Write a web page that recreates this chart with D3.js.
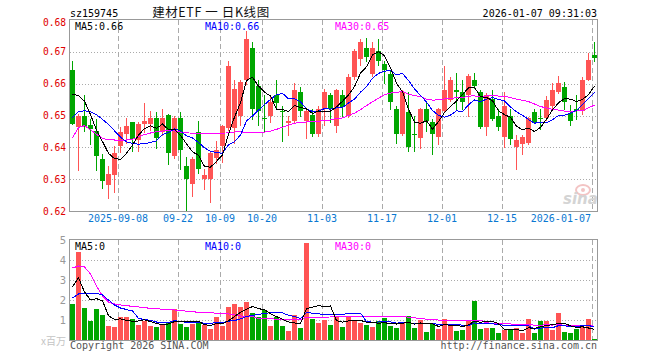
<!DOCTYPE html>
<html><head><meta charset="utf-8">
<script src="https://cdn.jsdelivr.net/npm/d3@7"></script>
<style>
html,body{margin:0;padding:0;background:#fff;}
svg{display:block;}
</style></head><body>
<svg id="chart" width="660" height="360"></svg>
<script>
// ---------------- data ----------------
const dates = ["2025-08-27","2025-08-28","2025-08-29","2025-09-01","2025-09-02","2025-09-03","2025-09-04","2025-09-05",
"2025-09-08","2025-09-09","2025-09-10","2025-09-11","2025-09-12","2025-09-15","2025-09-16","2025-09-17","2025-09-18","2025-09-19",
"2025-09-22","2025-09-23","2025-09-24","2025-09-25","2025-09-26","2025-09-29","2025-09-30","2025-10-09","2025-10-10",
"2025-10-13","2025-10-14","2025-10-15","2025-10-16","2025-10-17","2025-10-20","2025-10-21","2025-10-22","2025-10-23","2025-10-24",
"2025-10-27","2025-10-28","2025-10-29","2025-10-30","2025-10-31","2025-11-03","2025-11-04","2025-11-05","2025-11-06","2025-11-07",
"2025-11-10","2025-11-11","2025-11-12","2025-11-13","2025-11-14","2025-11-17","2025-11-18","2025-11-19","2025-11-20","2025-11-21",
"2025-11-24","2025-11-25","2025-11-26","2025-11-27","2025-11-28","2025-12-01","2025-12-02","2025-12-03","2025-12-04","2025-12-05",
"2025-12-08","2025-12-09","2025-12-10","2025-12-11","2025-12-12","2025-12-15","2025-12-16","2025-12-17","2025-12-18","2025-12-19",
"2025-12-22","2025-12-23","2025-12-24","2025-12-25","2025-12-26","2025-12-29","2025-12-30","2025-12-31","2026-01-05","2026-01-06","2026-01-07"];

const open = [0.6642,0.6465,0.6500,0.6470,0.6451,0.6363,0.6282,0.6313,0.6404,0.6441,0.6479,0.6423,0.6472,0.6472,0.6491,0.6448,0.6501,0.6373,
0.6491,0.6342,0.6284,0.6449,0.6300,0.6300,0.6368,0.6404,0.6461,0.6461,0.6498,0.6613,0.6713,0.6592,0.6492,0.6498,0.6563,0.6515,0.6475,
0.6482,0.6573,0.6482,0.6503,0.6441,0.6519,0.6563,0.6467,0.6563,0.6498,0.6621,0.6677,0.6711,0.6630,0.6703,0.6663,0.6630,0.6521,0.6441,
0.6511,0.6443,0.6430,0.6521,0.6479,0.6433,0.6514,0.6550,0.6581,0.6573,0.6563,0.6613,0.6573,0.6464,0.6552,0.6500,0.6433,0.6500,0.6401,
0.6409,0.6413,0.6511,0.6492,0.6491,0.6531,0.6573,0.6589,0.6508,0.6520,0.6514,0.6613,0.6691];
const high = [0.6672,0.6505,0.6563,0.6490,0.6488,0.6380,0.6340,0.6405,0.6463,0.6491,0.6479,0.6480,0.6540,0.6513,0.6511,0.6519,0.6505,0.6500,
0.6510,0.6370,0.6370,0.6482,0.6331,0.6390,0.6420,0.6470,0.6672,0.6611,0.6610,0.6764,0.6732,0.6613,0.6563,0.6560,0.6613,0.6529,0.6500,
0.6602,0.6590,0.6520,0.6520,0.6530,0.6582,0.6570,0.6583,0.6581,0.6630,0.6710,0.6741,0.6743,0.6732,0.6741,0.6670,0.6644,0.6530,0.6580,
0.6573,0.6498,0.6525,0.6542,0.6490,0.6525,0.6654,0.6620,0.6633,0.6610,0.6630,0.6633,0.6580,0.6570,0.6580,0.6520,0.6573,0.6520,0.6440,
0.6440,0.6495,0.6520,0.6520,0.6562,0.6602,0.6623,0.6604,0.6534,0.6563,0.6620,0.6696,0.6732];
const low = [0.6472,0.6330,0.6450,0.6410,0.6330,0.6272,0.6240,0.6260,0.6384,0.6415,0.6389,0.6390,0.6447,0.6455,0.6399,0.6440,0.6347,0.6365,
0.6331,0.6201,0.6248,0.6320,0.6269,0.6229,0.6350,0.6355,0.6455,0.6415,0.6470,0.6600,0.6488,0.6469,0.6451,0.6480,0.6519,0.6420,0.6440,
0.6480,0.6500,0.6430,0.6435,0.6435,0.6470,0.6480,0.6448,0.6498,0.6495,0.6615,0.6660,0.6672,0.6625,0.6659,0.6602,0.6520,0.6415,0.6440,
0.6389,0.6389,0.6399,0.6450,0.6378,0.6409,0.6510,0.6545,0.6519,0.6519,0.6498,0.6585,0.6460,0.6439,0.6485,0.6455,0.6400,0.6410,0.6331,
0.6380,0.6410,0.6475,0.6458,0.6485,0.6525,0.6570,0.6520,0.6469,0.6490,0.6505,0.6610,0.6670];
const close = [0.6472,0.6500,0.6465,0.6458,0.6373,0.6295,0.6315,0.6381,0.6449,0.6466,0.6425,0.6472,0.6482,0.6491,0.6430,0.6491,0.6383,0.6491,
0.6392,0.6300,0.6363,0.6331,0.6313,0.6381,0.6392,0.6466,0.6654,0.6583,0.6604,0.6741,0.6519,0.6514,0.6489,0.6542,0.6538,0.6513,0.6482,
0.6581,0.6514,0.6514,0.6441,0.6521,0.6573,0.6521,0.6581,0.6527,0.6621,0.6703,0.6732,0.6683,0.6711,0.6672,0.6642,0.6542,0.6441,0.6573,
0.6401,0.6441,0.6521,0.6482,0.6441,0.6521,0.6581,0.6613,0.6573,0.6542,0.6623,0.6592,0.6464,0.6563,0.6490,0.6464,0.6531,0.6425,0.6423,
0.6432,0.6491,0.6477,0.6490,0.6550,0.6581,0.6602,0.6542,0.6482,0.6514,0.6613,0.6673,0.6682];
// volume in millions (x百万)
const volume = [1.80,4.42,1.60,0.97,1.55,1.25,0.70,0.65,1.15,1.15,1.05,0.75,0.95,0.70,0.65,0.80,0.90,1.55,0.80,0.65,0.80,0.85,0.75,0.55,
1.15,0.70,1.65,1.80,1.65,1.90,1.35,1.15,1.50,0.70,1.15,0.70,0.45,1.25,0.60,4.85,1.05,0.85,1.00,0.75,1.20,0.65,1.20,1.00,0.85,0.75,
0.65,0.95,1.10,0.70,0.60,0.85,1.20,0.60,1.00,0.40,0.85,0.55,1.05,0.80,0.45,0.50,1.00,1.95,0.55,0.60,0.60,0.35,0.50,0.55,0.60,0.35,
1.05,0.35,0.95,0.95,0.50,1.35,0.40,0.35,0.55,0.65,1.05,0.05];

const priceMa5Lead = [0.6566,0.6563,0.6545,0.6503];
const priceMa10Lead = [0.6493,0.6512,0.6515,0.6512,0.6502,0.6488,0.6472,0.6452,0.6432];
const priceMa30Lead = [0.6430,0.6462,0.6468,0.6455,0.6441,0.6428,0.6424,0.6423,0.6423,0.6423,0.6425,0.6433,0.6440,0.6445,0.6449,
0.6451,0.6454,0.6452,0.6448,0.6446,0.6444,0.6443,0.6443,0.6443,0.6443,0.6444,0.6446,0.6448,0.6449];
const volMa5Lead = [2.65,3.12,2.40,2.00];
const volMa10Lead = [2.10,2.30,2.33,2.33,2.33,2.25,2.00,1.75,1.60];
const volMa30Lead = [3.60,3.70,3.65,3.30,2.70,2.20,1.90,1.80,1.75,1.72,1.68,1.65,1.62,1.58,1.56,1.54,1.53,1.50,1.47,1.44,1.42,1.38,
1.37,1.36,1.34,1.32,1.30,1.25,1.20];

const tickDates = ["2025-09-08","2025-09-22","2025-10-09","2025-10-20","2025-11-03","2025-11-17","2025-12-01","2025-12-15","2026-01-07"];
const tickLabels = ["2025-09-08","09-22","10-09","10-20","11-03","11-17","12-01","12-15","2026-01-07"];
const priceTicks = [0.62,0.63,0.64,0.65,0.66,0.67,0.68];
const volTicks = [1,2,3,4,5];

const symbol = "sz159745";
const title = "建材ETF 一 日K线图";
const stamp = "2026-01-07 09:31:03";

// ---------------- helpers ----------------
function movingAvg(vals, n, lead) {
  return vals.map((v, i) => {
    if (i < lead.length && i < n - 1) return lead[i];
    let s = 0; for (let k = i - n + 1; k <= i; k++) s += vals[k];
    return s / n;
  });
}
const ma5 = movingAvg(close, 5, priceMa5Lead);
const ma10 = movingAvg(close, 10, priceMa10Lead);
const ma30 = movingAvg(close, 30, priceMa30Lead);
const vma5 = movingAvg(volume, 5, volMa5Lead);
const vma10 = movingAvg(volume, 10, volMa10Lead);
const vma30 = movingAvg(volume, 30, volMa30Lead);

const RED = "#ff5454", GREEN = "#00a600", GRID = "#aaaaaa", BORDER = "#999999";
const MONO = "'DejaVu Sans Mono', monospace";

const svg = d3.select("#chart");
const L = 70, R = 597;
const pTop = 20, pBot = 211, vTop = 240, vBot = 340;

const x = d3.scaleBand().domain(dates).range([69.5, 597.5]).paddingInner(1/6).paddingOuter(1/12);
const y = d3.scaleLinear().domain([0.62, 0.68]).range([pBot, pTop]);
const yv = d3.scaleLinear().domain([0, 5]).range([vBot, vTop]);
const idx = d3.range(dates.length);
const cx = i => Math.round(x(dates[i])) + 2.5;

// ---------- header ----------
svg.append("text").attr("x", 70).attr("y", 17).attr("font-family", MONO).attr("font-size", 10).attr("fill", "#000").text(symbol);
svg.append("text").attr("x", 211).attr("y", 17).attr("text-anchor", "middle").attr("font-family", "'Noto Sans CJK SC', sans-serif")
  .attr("font-size", 12.5).attr("fill", "#111").attr("letter-spacing", 0.6).text(title);
svg.append("text").attr("x", 597).attr("y", 17).attr("text-anchor", "end").attr("font-family", MONO).attr("font-size", 10).attr("fill", "#000").text(stamp);

// ---------- grids ----------
function grid(g, top, bot, hvals, yscale) {
  g.selectAll("line.h").data(hvals).join("line").attr("class", "h")
    .attr("x1", L).attr("x2", R).attr("y1", d => Math.round(yscale(d)) + 0.5).attr("y2", d => Math.round(yscale(d)) + 0.5)
    .attr("stroke", GRID).attr("stroke-dasharray", "1,2");
  g.selectAll("line.v").data(tickDates).join("line").attr("class", "v")
    .attr("x1", d => Math.round(x(d)) + 0.5).attr("x2", d => Math.round(x(d)) + 0.5).attr("y1", top).attr("y2", bot)
    .attr("stroke", GRID).attr("stroke-dasharray", "5,3");
}
const gp = svg.append("g"); grid(gp, pTop, pBot, [0.63,0.64,0.65,0.66,0.67], y);
const gv = svg.append("g"); grid(gv, vTop, vBot, [1,2,3,4], yv);

// watermark
const wm = svg.append("g");
wm.append("ellipse").attr("cx", 583).attr("cy", 190).attr("rx", 7).attr("ry", 5).attr("fill", "none").attr("stroke", "#f3c4c4").attr("stroke-width", 2);
wm.append("circle").attr("cx", 583).attr("cy", 190).attr("r", 2).attr("fill", "#f3c4c4");
wm.append("text").attr("x", 563).attr("y", 204).attr("font-family", "'DejaVu Sans', sans-serif").attr("font-weight", "bold")
  .attr("font-style", "italic").attr("font-size", 15).attr("fill", "#d4d4d4").text("sina");

// ---------- candles ----------
const up = i => close[i] >= open[i];
const gc = svg.append("g").attr("shape-rendering", "crispEdges");
gc.selectAll("line.wick").data(idx).join("line").attr("class", "wick")
  .attr("x1", cx).attr("x2", cx)
  .attr("y1", i => Math.round(y(high[i]))).attr("y2", i => Math.round(y(low[i])) + 1)
  .attr("stroke", i => up(i) ? RED : GREEN);
gc.selectAll("rect.body").data(idx).join("rect").attr("class", "body")
  .attr("x", i => Math.round(x(dates[i]))).attr("width", 5)
  .attr("y", i => Math.round(y(Math.max(open[i], close[i]))))
  .attr("height", i => Math.max(1, Math.round(y(Math.min(open[i], close[i]))) - Math.round(y(Math.max(open[i], close[i])))))
  .attr("fill", i => up(i) ? RED : GREEN);

// volume bars
gc.selectAll("rect.vol").data(idx).join("rect").attr("class", "vol")
  .attr("x", i => Math.round(x(dates[i]))).attr("width", 5)
  .attr("y", i => Math.round(yv(volume[i]))).attr("height", i => vBot - Math.round(yv(volume[i])))
  .attr("fill", i => up(i) ? RED : GREEN);

// ---------- MA lines ----------
function maLine(arr, ys, color) {
  svg.append("path").datum(idx)
    .attr("d", d3.line().x(cx).y(i => ys(arr[i])))
    .attr("fill", "none").attr("stroke", color).attr("stroke-width", 1).attr("shape-rendering", "crispEdges");
}
maLine(ma30, y, "#ff00ff"); maLine(ma10, y, "#0000ff"); maLine(ma5, y, "#000000");
maLine(vma30, yv, "#ff00ff"); maLine(vma10, yv, "#0000ff"); maLine(vma5, yv, "#000000");

// ---------- borders ----------
svg.append("rect").attr("x", 69.5).attr("y", 19.5).attr("width", 528).attr("height", 192).attr("fill", "none").attr("stroke", BORDER);
svg.append("rect").attr("x", 69.5).attr("y", 239.5).attr("width", 528).attr("height", 101).attr("fill", "none").attr("stroke", BORDER);

// ---------- axes ----------
const ay = svg.append("g").attr("transform", "translate(66,0)")
  .call(d3.axisLeft(y).tickValues(priceTicks).tickFormat(d3.format(".2f")).tickSize(0).tickPadding(0));
ay.select(".domain").remove();
ay.selectAll("text").attr("font-family", MONO).attr("font-size", 9.6).attr("fill", "#e00000");
ay.selectAll(".tick").filter(d => d === 0.68).select("text").attr("dy", "0.55em");

const av = svg.append("g").attr("transform", "translate(66,0)")
  .call(d3.axisLeft(yv).tickValues(volTicks).tickFormat(d3.format("d")).tickSize(0).tickPadding(0));
av.select(".domain").remove();
av.selectAll("text").attr("font-family", "'DejaVu Sans', sans-serif").attr("font-size", 10).attr("fill", "#999");
svg.append("text").attr("x", 66).attr("y", 345).attr("text-anchor", "end").attr("font-family", "'Noto Sans CJK SC', sans-serif")
  .attr("font-size", 10).attr("fill", "#c4c4c4").text("x百万");

const tickMap = new Map(tickDates.map((d, k) => [d, tickLabels[k]]));
const ax = svg.append("g").attr("transform", `translate(-2.5,${pBot})`)
  .call(d3.axisBottom(x).tickValues(tickDates).tickFormat(d => tickMap.get(d)).tickSize(0).tickPadding(4));
ax.select(".domain").remove();
ax.selectAll("text").attr("font-family", MONO).attr("font-size", 10).attr("fill", "#0a78d2");
ax.selectAll(".tick").filter(d => d === "2026-01-07").select("text").attr("text-anchor", "end").attr("dx", "-0.1em");

// ---------- MA legends ----------
const fmt2 = d3.format(".2f");
const last = dates.length - 1;
const legend = (xx, yy, txt, col) => svg.append("text").attr("x", xx).attr("y", yy).attr("font-family", MONO)
  .attr("font-size", 10).attr("fill", col).text(txt);
legend(75, 29.5, "MA5:" + fmt2(ma5[last]), "#000");
legend(205, 29.5, "MA10:" + fmt2(ma10[last]), "#0000ff");
legend(335, 29.5, "MA30:" + fmt2(ma30[last]), "#ff00ff");
legend(75, 250, "MA5:" + Math.floor(vma5[last]), "#000");
legend(205, 250, "MA10:" + Math.floor(vma10[last]), "#0000ff");
legend(335, 250, "MA30:" + Math.floor(vma30[last]), "#ff00ff");

// ---------- footer ----------
svg.append("text").attr("x", 70).attr("y", 349).attr("font-family", MONO).attr("font-size", 10).attr("fill", "#555").text("Copyright 2026 SINA.COM");
svg.append("text").attr("x", 597).attr("y", 349).attr("text-anchor", "end").attr("font-family", MONO).attr("font-size", 10).attr("fill", "#555").text("http://finance.sina.com.cn");
</script>
</body></html>
